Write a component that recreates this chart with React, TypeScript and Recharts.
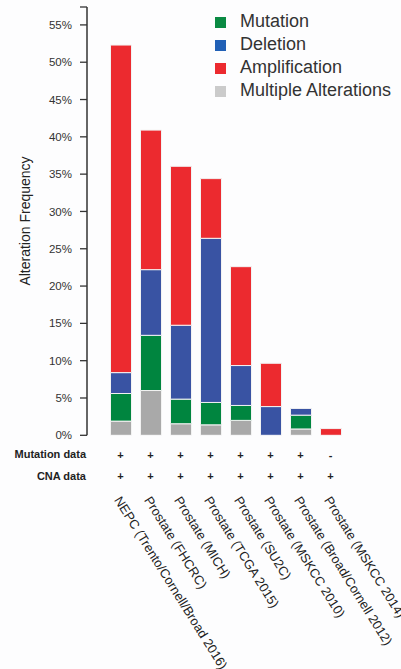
import React from 'react';
import { BarChart, Bar, XAxis, YAxis, Legend } from 'recharts';

const categories = [
  'NEPC (Trento/Cornell/Broad 2016)',
  'Prostate (FHCRC)',
  'Prostate (MICH)',
  'Prostate (TCGA 2015)',
  'Prostate (SU2C)',
  'Prostate (MSKCC 2010)',
  'Prostate (Broad/Cornell 2012)',
  'Prostate (MSKCC 2014)',
];
const multipleAlterations = [1.9, 6.0, 1.55, 1.4, 2.0, 0, 0.85, 0];
const mutation = [3.7, 7.4, 3.3, 3.0, 2.0, 0, 1.85, 0];
const deletion = [2.8, 8.8, 9.9, 22.0, 5.35, 3.85, 0.9, 0];
const amplification = [43.9, 18.7, 21.3, 8.0, 13.25, 5.8, 0, 0.9];
const mutationData = ['+', '+', '+', '+', '+', '+', '+', '-'];
const cnaData = ['+', '+', '+', '+', '+', '+', '+', '+'];
const yMax = 57.4;
const yTicks = [0, 5, 10, 15, 20, 25, 30, 35, 40, 45, 50, 55, yMax];

const data = categories.map((name, i) => ({
  name,
  multiple: multipleAlterations[i],
  mutation: mutation[i],
  deletion: deletion[i],
  amplification: amplification[i],
  mut: mutationData[i],
  cna: cnaData[i],
}));

const FONT = '"Liberation Sans", Arial, Helvetica, sans-serif';
const COLORS = {
  multiple: '#a9a9a9',
  mutation: '#00853f',
  deletion: '#3953a3',
  amplification: '#ec2a2f',
};
const legendItems = [
  { label: 'Mutation', color: '#0a8a43' },
  { label: 'Deletion', color: '#2160b6' },
  { label: 'Amplification', color: '#ec2a2f' },
  { label: 'Multiple Alterations', color: '#cbcbcb' },
];

const XTick = (props: any) => {
  const { x, y, index, payload } = props;
  const row = data[index] || { mut: '', cna: '' };
  const ax = x - 6.7;
  const ay = y + 64.6;
  return (
    <g fontFamily={FONT}>
      <text x={x} y={y + 23.5} textAnchor="middle" fontSize={11} fontWeight="bold" fill="#222">
        {row.mut}
      </text>
      <text x={x} y={y + 44.3} textAnchor="middle" fontSize={11} fontWeight="bold" fill="#222">
        {row.cna}
      </text>
      <text
        x={ax}
        y={ay}
        transform={`rotate(58 ${ax} ${ay})`}
        textAnchor="start"
        fontSize={13}
        fill="#222"
      >
        {payload.value}
      </text>
    </g>
  );
};

const LegendContent = () => (
  <div style={{ fontFamily: FONT, fontSize: 18, color: '#333' }}>
    {legendItems.map((it) => (
      <div key={it.label} style={{ height: 23, lineHeight: '23px', display: 'flex', alignItems: 'center', whiteSpace: 'nowrap' }}>
        <span style={{ display: 'inline-block', width: 11, height: 11, background: it.color, marginRight: 14, marginTop: 3 }} />
        <span>{it.label}</span>
      </div>
    ))}
  </div>
);

const YLabel = () => (
  <text
    x={30}
    y={221}
    transform="rotate(-90 30 221)"
    textAnchor="middle"
    fontFamily={FONT}
    fontSize={14}
    fill="#222"
  >
    Alteration Frequency
  </text>
);

export default function App() {
  return (
    <div style={{ position: 'absolute', left: 0, top: 0, width: 401, height: 669, background: '#fdfdfe' }}>
      <BarChart
        width={401}
        height={669}
        data={data}
        margin={{ top: 7, right: 55.5, bottom: 0, left: 0 }}
        barSize={21}
      >
        <XAxis
          dataKey="name"
          axisLine={false}
          tickLine={false}
          interval={0}
          height={233.7}
          tickSize={0}
          tickMargin={0}
          padding={{ left: 18.5, right: 0 }}
          tick={<XTick />}
        />
        <YAxis
          width={87}
          domain={[0, yMax]}
          ticks={yTicks}
          interval={0}
          allowDataOverflow
          tickFormatter={(v: number) => (v === yMax ? '' : `${v}%`)}
          tickSize={7}
          tickMargin={8}
          axisLine={{ stroke: '#333', strokeWidth: 1.5 }}
          tickLine={{ stroke: '#333', strokeWidth: 1.3 }}
          tick={{ fontFamily: FONT, fontSize: 11.5, fill: '#333' }}
          label={<YLabel />}
        />
        <Legend
          layout="horizontal"
          verticalAlign="middle"
          align="center"
          content={<LegendContent />}
          wrapperStyle={{ position: 'absolute', left: 215, top: 9.5, width: 186, height: 95 }}
        />
        <Bar dataKey="multiple" stackId="a" fill={COLORS.multiple} stroke="#f2f2f2" strokeWidth={1} isAnimationActive={false} />
        <Bar dataKey="mutation" stackId="a" fill={COLORS.mutation} stroke="#f2f2f2" strokeWidth={1} isAnimationActive={false} />
        <Bar dataKey="deletion" stackId="a" fill={COLORS.deletion} stroke="#f2f2f2" strokeWidth={1} isAnimationActive={false} />
        <Bar dataKey="amplification" stackId="a" fill={COLORS.amplification} stroke="#f2f2f2" strokeWidth={1} isAnimationActive={false} />
      </BarChart>
      <div style={{ position: 'absolute', left: 0, width: 86, top: 447, textAlign: 'right', fontFamily: FONT, fontSize: 11, fontWeight: 'bold', color: '#222', lineHeight: '14px' }}>
        Mutation data
      </div>
      <div style={{ position: 'absolute', left: 0, width: 86, top: 469, textAlign: 'right', fontFamily: FONT, fontSize: 11, fontWeight: 'bold', color: '#222', lineHeight: '14px' }}>
        CNA data
      </div>
    </div>
  );
}
